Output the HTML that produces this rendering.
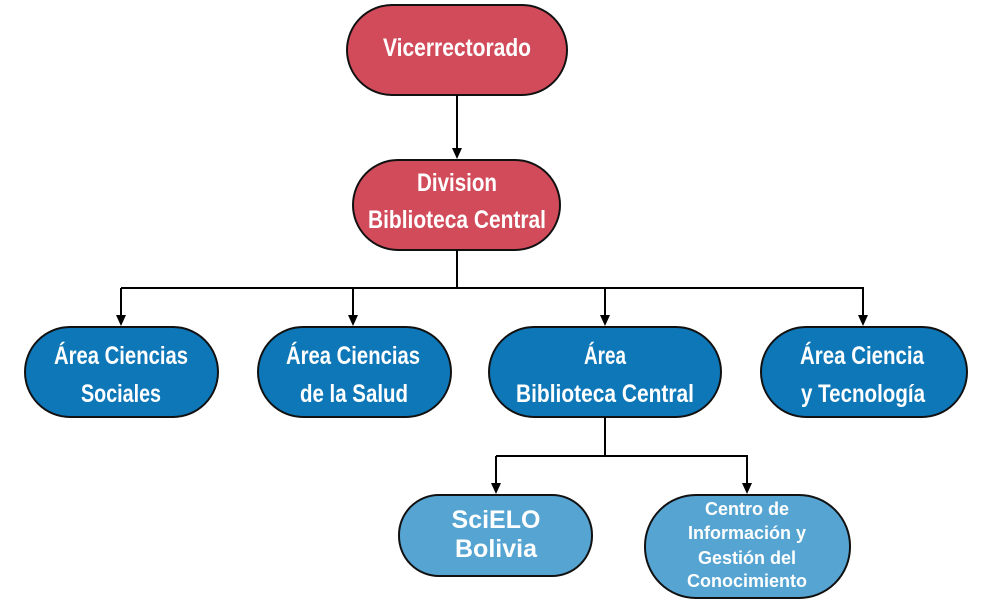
<!DOCTYPE html>
<html><head><meta charset="utf-8"><style>html,body{margin:0;padding:0;background:#fff}svg{display:block}</style></head>
<body>
<svg width="1000" height="609" viewBox="0 0 1000 609" xmlns="http://www.w3.org/2000/svg" font-family="Liberation Sans, sans-serif">
<g stroke="#111" stroke-width="2">
<rect x="347" y="5" width="220" height="90" rx="45" fill="#d14b5a"/>
<rect x="353" y="160" width="207" height="90" rx="45" fill="#d14b5a"/>
<rect x="25" y="327" width="193" height="90" rx="45" fill="#0e77b8"/>
<rect x="258" y="327" width="193" height="90" rx="45" fill="#0e77b8"/>
<rect x="489" y="327" width="232" height="90" rx="45" fill="#0e77b8"/>
<rect x="761" y="327" width="206" height="90" rx="45" fill="#0e77b8"/>
<rect x="399" y="495" width="193" height="81" rx="40" fill="#55a4d2"/>
<rect x="645" y="495" width="205" height="103" rx="51" fill="#55a4d2"/>
</g>
<g stroke="#000" stroke-width="2" fill="none">
<line x1="457" y1="95" x2="457" y2="150"/>
<line x1="457" y1="250" x2="457" y2="288"/>
<line x1="121" y1="288" x2="864" y2="288"/>
<line x1="121" y1="288" x2="121" y2="317"/>
<line x1="353" y1="288" x2="353" y2="317"/>
<line x1="605" y1="288" x2="605" y2="317"/>
<line x1="863" y1="288" x2="863" y2="317"/>
<line x1="605" y1="417" x2="605" y2="456"/>
<line x1="496" y1="456" x2="748" y2="456"/>
<line x1="496" y1="456" x2="496" y2="485"/>
<line x1="747" y1="456" x2="747" y2="485"/>
</g>
<g fill="#000">
<path d="M452,148 L462,148 L457,159 z"/>
<path d="M116,315 L126,315 L121,326 z"/>
<path d="M348,315 L358,315 L353,326 z"/>
<path d="M600,315 L610,315 L605,326 z"/>
<path d="M858,315 L868,315 L863,326 z"/>
<path d="M491,483 L501,483 L496,494 z"/>
<path d="M742,483 L752,483 L747,494 z"/>
</g>
<g fill="#fff" font-size="25" font-weight="bold" text-anchor="middle">
<text x="457" y="56" textLength="148" lengthAdjust="spacingAndGlyphs">Vicerrectorado</text>
<text x="457" y="191" textLength="80" lengthAdjust="spacingAndGlyphs">Division</text>
<text x="457" y="228" textLength="178" lengthAdjust="spacingAndGlyphs">Biblioteca Central</text>
<text x="121" y="364" textLength="134" lengthAdjust="spacingAndGlyphs">Área Ciencias</text>
<text x="121" y="402" textLength="80" lengthAdjust="spacingAndGlyphs">Sociales</text>
<text x="353" y="364" textLength="134" lengthAdjust="spacingAndGlyphs">Área Ciencias</text>
<text x="354" y="402" textLength="108" lengthAdjust="spacingAndGlyphs">de la Salud</text>
<text x="605" y="364" textLength="42" lengthAdjust="spacingAndGlyphs">Área</text>
<text x="605" y="402" textLength="178" lengthAdjust="spacingAndGlyphs">Biblioteca Central</text>
<text x="862" y="364" textLength="124" lengthAdjust="spacingAndGlyphs">Área Ciencia</text>
<text x="863" y="402" textLength="124" lengthAdjust="spacingAndGlyphs">y Tecnología</text>
</g>
<g fill="#fff" font-weight="bold" text-anchor="middle">
<text x="496" y="528" font-size="25">SciELO</text>
<text x="496" y="557" font-size="25">Bolivia</text>
<text x="747" y="515" font-size="18">Centro de</text>
<text x="747" y="539" font-size="18">Información y</text>
<text x="747" y="564" font-size="18">Gestión del</text>
<text x="747" y="587" font-size="18">Conocimiento</text>
</g>
</svg>
</body></html>
